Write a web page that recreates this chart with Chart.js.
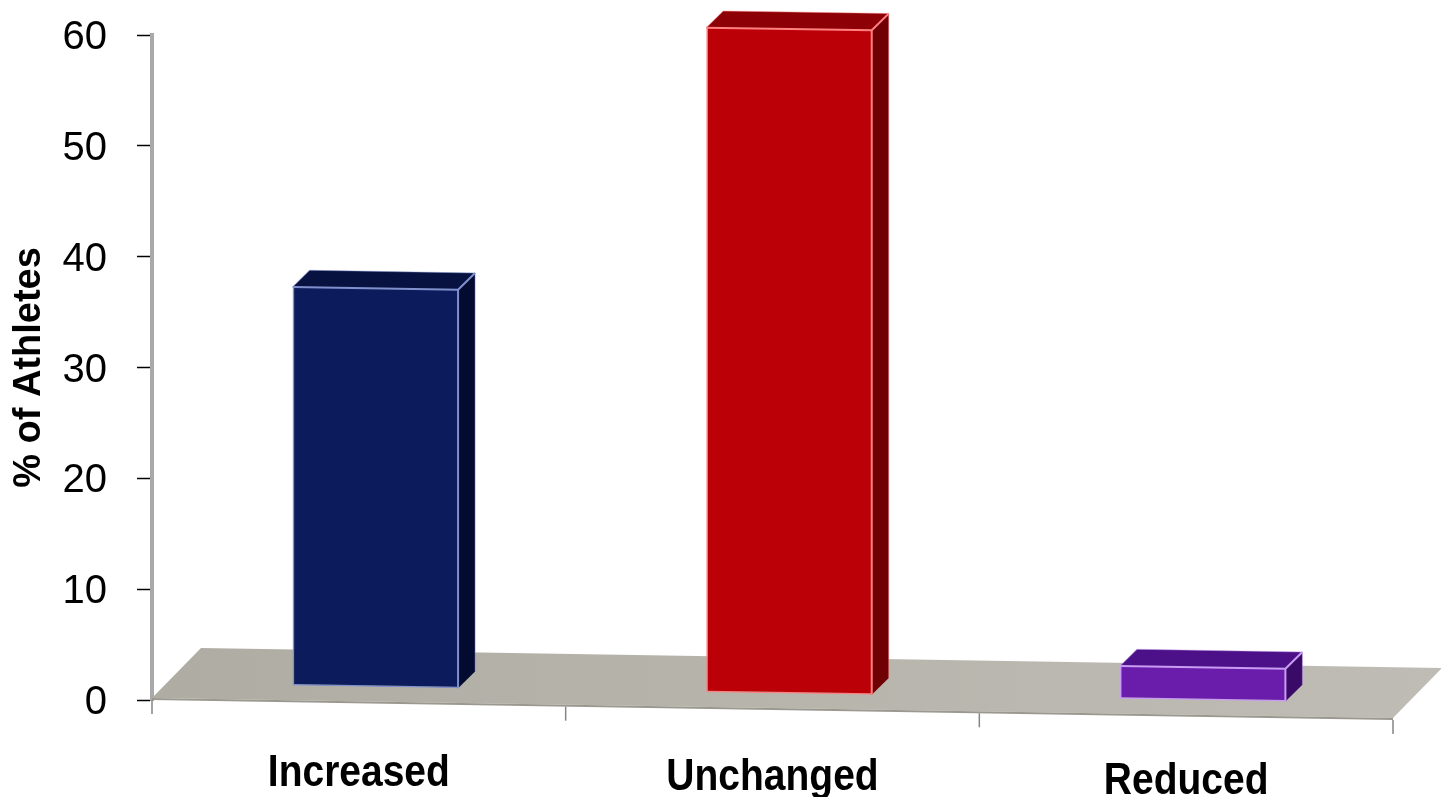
<!DOCTYPE html>
<html>
<head>
<meta charset="utf-8">
<script src="https://cdn.jsdelivr.net/npm/chart.js@4/dist/chart.umd.min.js"></script>
<style>
  html, body { margin: 0; padding: 0; background: #ffffff; }
  canvas { display: block; }
</style>
</head>
<body>
<canvas id="chart" width="1441" height="797"></canvas>
<script>
// Share of athletes per outcome (%)
const categories = ['Increased', 'Unchanged', 'Reduced'];
const athletesPct = [36, 60, 3];
const yTickValues = [0, 10, 20, 30, 40, 50, 60];

// Face colours of the 3-D columns
const frontColors = ['#0b1b5c', '#bb0008', '#6a1caa'];
const topColors   = ['#071241', '#8c0006', '#4c1188'];
const sideColors  = ['#040b31', '#6f0004', '#3a0a69'];
const edgeColors  = ['#8090cc', '#ff8080', '#c79cf2'];

// Perspective settings
const SLOPE = 0.0161;                 // floor tilts down to the right
const FLOOR_DEPTH = { x: 49, y: -50 };
const BAR_DEPTH = { x: 17, y: -17 };
const BAR_SHIFT = { x: 16.5, y: -16 }; // columns stand mid-way into the floor
const LABEL_SLOPE = 0.0097;
const LABEL_STRETCH = 0.886;          // condensed category labels

const FONT = 'Liberation Sans';

const perspective = {
  id: 'perspective',
  beforeDatasetsDraw(chart) {
    const { ctx, chartArea: a, scales: { x, y } } = chart;
    const y0 = y.getPixelForValue(0);
    const front = px => y0 - 2 + SLOPE * (px - a.left);
    const fl = a.left, fr = a.right;

    ctx.save();
    // floor
    const g = ctx.createLinearGradient(fl, 0, fr + FLOOR_DEPTH.x, 0);
    g.addColorStop(0, '#afada3');
    g.addColorStop(1, '#bebcb4');
    ctx.fillStyle = g;
    ctx.beginPath();
    ctx.moveTo(fl, front(fl));
    ctx.lineTo(fr, front(fr));
    ctx.lineTo(fr + FLOOR_DEPTH.x, front(fr) + FLOOR_DEPTH.y);
    ctx.lineTo(fl + FLOOR_DEPTH.x, front(fl) + FLOOR_DEPTH.y);
    ctx.closePath();
    ctx.fill();
    ctx.strokeStyle = '#9b998f';
    ctx.lineWidth = 2;
    ctx.beginPath();
    ctx.moveTo(fl, front(fl) + 1);
    ctx.lineTo(fr, front(fr) + 1);
    ctx.stroke();

    // category boundary ticks along the floor edge
    const step = (a.right - a.left) / categories.length;
    ctx.strokeStyle = '#858585';
    ctx.lineWidth = 1.5;
    for (let i = 0; i <= categories.length; i++) {
      const px = x.getPixelForValue(0) - step / 2 + i * step;
      ctx.beginPath();
      ctx.moveTo(px, front(px) + 2);
      ctx.lineTo(px, front(px) + 16);
      ctx.stroke();
    }

    // category labels
    ctx.fillStyle = '#000';
    ctx.font = 'bold 44px "' + FONT + '"';
    ctx.textAlign = 'center';
    ctx.textBaseline = 'alphabetic';
    categories.forEach((c, i) => {
      const cx = x.getPixelForValue(i);
      ctx.save();
      ctx.translate(cx, y0 + 84 + LABEL_SLOPE * (cx - a.left));
      ctx.scale(LABEL_STRETCH, 1);
      ctx.fillText(c, 0, 0);
      ctx.restore();
    });
    ctx.restore();

    // columns are drawn in the tilted floor space
    ctx.save();
    ctx.transform(1, SLOPE, 0, 1, BAR_SHIFT.x, BAR_SHIFT.y - SLOPE * a.left);
  },
  afterDatasetsDraw(chart) {
    const { ctx } = chart;
    const meta = chart.getDatasetMeta(0);
    const dx = BAR_DEPTH.x, dy = BAR_DEPTH.y;
    meta.data.forEach((el, i) => {
      const { x: cx, y: top, base, width } = el.getProps(['x', 'y', 'base', 'width'], true);
      const l = cx - width / 2, r = cx + width / 2;

      // top face
      ctx.fillStyle = topColors[i];
      ctx.beginPath();
      ctx.moveTo(l, top);
      ctx.lineTo(r, top);
      ctx.lineTo(r + dx, top + dy);
      ctx.lineTo(l + dx, top + dy);
      ctx.closePath();
      ctx.fill();

      // side face
      ctx.fillStyle = sideColors[i];
      ctx.beginPath();
      ctx.moveTo(r, top);
      ctx.lineTo(r, base);
      ctx.lineTo(r + dx, base + dy);
      ctx.lineTo(r + dx, top + dy);
      ctx.closePath();
      ctx.fill();

      // highlighted edges
      ctx.strokeStyle = edgeColors[i];
      ctx.lineWidth = 2;
      ctx.beginPath();
      ctx.moveTo(l, top);
      ctx.lineTo(r, top);
      ctx.lineTo(r, base);
      ctx.moveTo(r, top);
      ctx.lineTo(r + dx, top + dy);
      ctx.stroke();
      ctx.globalAlpha = 0.45;
      ctx.lineWidth = 1;
      ctx.beginPath();
      ctx.moveTo(l, top);
      ctx.lineTo(l + dx, top + dy);
      ctx.lineTo(r + dx, top + dy);
      ctx.lineTo(r + dx, base + dy);
      ctx.stroke();
      ctx.globalAlpha = 1;
    });
    ctx.restore();
  }
};

new Chart(document.getElementById('chart'), {
  type: 'bar',
  data: {
    labels: categories,
    datasets: [{
      data: athletesPct,
      backgroundColor: frontColors,
      borderColor: edgeColors,
      borderWidth: { top: 0, right: 0, left: 1.5, bottom: 1.5 },
      borderSkipped: false,
      barPercentage: 0.4,
      categoryPercentage: 1,
      clip: false
    }]
  },
  options: {
    responsive: false,
    animation: false,
    events: [],
    layout: { padding: { top: 35, right: 48, bottom: 0, left: 0 } },
    plugins: { legend: { display: false }, tooltip: { enabled: false } },
    scales: {
      x: {
        offset: true,
        grid: { display: false },
        border: { display: false },
        ticks: { display: false },
        afterFit: s => { s.height = 97; }
      },
      y: {
        min: 0,
        max: 60,
        afterBuildTicks: s => { s.ticks = yTickValues.map(v => ({ value: v })); },
        afterFit: s => { s.width = 152; s.paddingTop = 0; s.paddingBottom = 0; },
        border: { display: true, color: '#a9a9a9', width: 4 },
        grid: {
          display: true, drawOnChartArea: false, drawTicks: true,
          tickLength: 15, tickColor: '#000', tickWidth: 1.5
        },
        ticks: {
          color: '#000',
          font: { family: FONT, size: 40 },
          padding: 30,
          labelOffset: 3
        },
        title: {
          display: true,
          text: '% of Athletes',
          color: '#000',
          font: { family: FONT, size: 38, weight: 'bold' },
          padding: { top: 7, bottom: 0 }
        }
      }
    }
  },
  plugins: [perspective]
});
</script>
</body>
</html>
